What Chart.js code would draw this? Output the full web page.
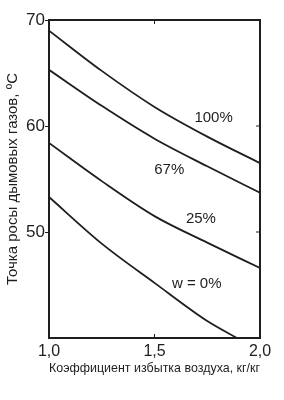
<!DOCTYPE html>
<html>
<head>
<meta charset="utf-8">
<script src="https://cdn.jsdelivr.net/npm/chart.js@4.4.1/dist/chart.umd.min.js"></script>
<style>
  html, body { margin: 0; padding: 0; background: #ffffff; }
  #wrap { width: 284px; height: 400px; }
</style>
</head>
<body>
<div id="wrap"><canvas id="c" width="284" height="400"></canvas></div>
<script>
// ---- data ----
const alpha = [1.0, 1.25, 1.5, 1.75, 2.0];            // коэффициент избытка воздуха
const dew100 = [69.0, 65.2, 61.8, 59.0, 56.5];         // w = 100%
const dew67  = [65.3, 61.9, 58.8, 56.2, 53.7];         // w = 67%
const dew25  = [58.4, 54.8, 51.5, 49.0, 46.6];         // w = 25%
const alpha0 = [1.0, 1.25, 1.5, 1.75, 1.9];
const dew0   = [53.3, 48.9, 45.2, 41.6, 39.9];         // w = 0%
const seriesLabels = ['100%', '67%', '25%', 'w = 0%'];
const xTicks = [1.0, 1.5, 2.0];
const yTicks = [50, 60, 70];
const xTitle = 'Коэффициент избытка воздуха, кг/кг';
const yTitle = 'Точка росы дымовых газов, ºС';

const ink = '#1e1e1e';
const FONT = 'Liberation Sans, Arial, sans-serif';

function pts(xs, ys) { return xs.map((x, i) => ({ x: x, y: ys[i] })); }

const datasets = [
  { label: seriesLabels[0], data: pts(alpha, dew100) },
  { label: seriesLabels[1], data: pts(alpha, dew67) },
  { label: seriesLabels[2], data: pts(alpha, dew25) },
  { label: seriesLabels[3], data: pts(alpha0, dew0) }
];

// frame, inward ticks and curve labels
const framePlugin = {
  id: 'frame',
  afterDraw(chart, args, opts) {
    const { ctx, chartArea: a, scales } = chart;
    ctx.save();
    ctx.strokeStyle = ink;
    ctx.lineWidth = 2;
    ctx.strokeRect(a.left, a.top, a.right - a.left, a.bottom - a.top);
    ctx.lineWidth = 1;
    ctx.beginPath();
    xTicks.slice(1, -1).forEach(v => {
      const px = scales.x.getPixelForValue(v);
      ctx.moveTo(px, a.bottom); ctx.lineTo(px, a.bottom - 4);
      ctx.moveTo(px, a.top); ctx.lineTo(px, a.top + 4);
    });
    yTicks.slice(0, -1).forEach(v => {
      const py = scales.y.getPixelForValue(v);
      ctx.moveTo(a.right, py); ctx.lineTo(a.right - 4, py);
    });
    ctx.stroke();
    ctx.fillStyle = ink;
    ctx.font = '15px ' + FONT;
    ctx.textAlign = 'center';
    ctx.textBaseline = 'middle';
    opts.labels.forEach((l, i) => {
      ctx.fillText(seriesLabels[i], scales.x.getPixelForValue(l.x), scales.y.getPixelForValue(l.y));
    });
    ctx.restore();
  }
};

new Chart(document.getElementById('c'), {
  type: 'line',
  data: { datasets: datasets },
  options: {
    responsive: false,
    animation: false,
    layout: { padding: { top: 20, right: 24, left: 0, bottom: 0 } },
    elements: {
      point: { radius: 0 },
      line: { borderWidth: 1.8, borderColor: ink, cubicInterpolationMode: 'monotone', fill: false }
    },
    plugins: {
      legend: { display: false },
      tooltip: { enabled: false },
      frame: {
        labels: [
          { x: 1.78, y: 60.8 },
          { x: 1.57, y: 55.9 },
          { x: 1.72, y: 51.2 },
          { x: 1.70, y: 45.1 }
        ]
      }
    },
    scales: {
      x: {
        type: 'linear', min: 1, max: 2,
        afterBuildTicks: s => { s.ticks = xTicks.map(v => ({ value: v })); },
        afterFit: s => { s.height = 62; },
        ticks: {
          callback: v => v.toFixed(1).replace('.', ','),
          font: { size: 16, family: FONT }, color: ink, padding: 4,
          maxRotation: 0, autoSkip: false
        },
        grid: { display: true, drawOnChartArea: false, drawTicks: false },
        border: { display: false },
        title: {
          display: true, text: xTitle, color: ink,
          font: { size: 13.5, family: FONT }, padding: { top: 0, bottom: 24 }
        }
      },
      y: {
        type: 'linear', min: 40, max: 70,
        afterBuildTicks: s => { s.ticks = yTicks.map(v => ({ value: v })); },
        afterFit: s => { s.width = 49; },
        ticks: {
          callback: v => String(v),
          font: { size: 17, family: FONT }, color: ink, padding: 0, autoSkip: false
        },
        grid: { display: true, drawOnChartArea: false, drawTicks: true, tickLength: 4, color: ink },
        border: { display: false },
        title: {
          display: true, text: yTitle, color: ink,
          font: { size: 15, family: FONT }, padding: { top: 4, bottom: 0 }
        }
      }
    }
  },
  plugins: [framePlugin]
});
</script>
</body>
</html>
